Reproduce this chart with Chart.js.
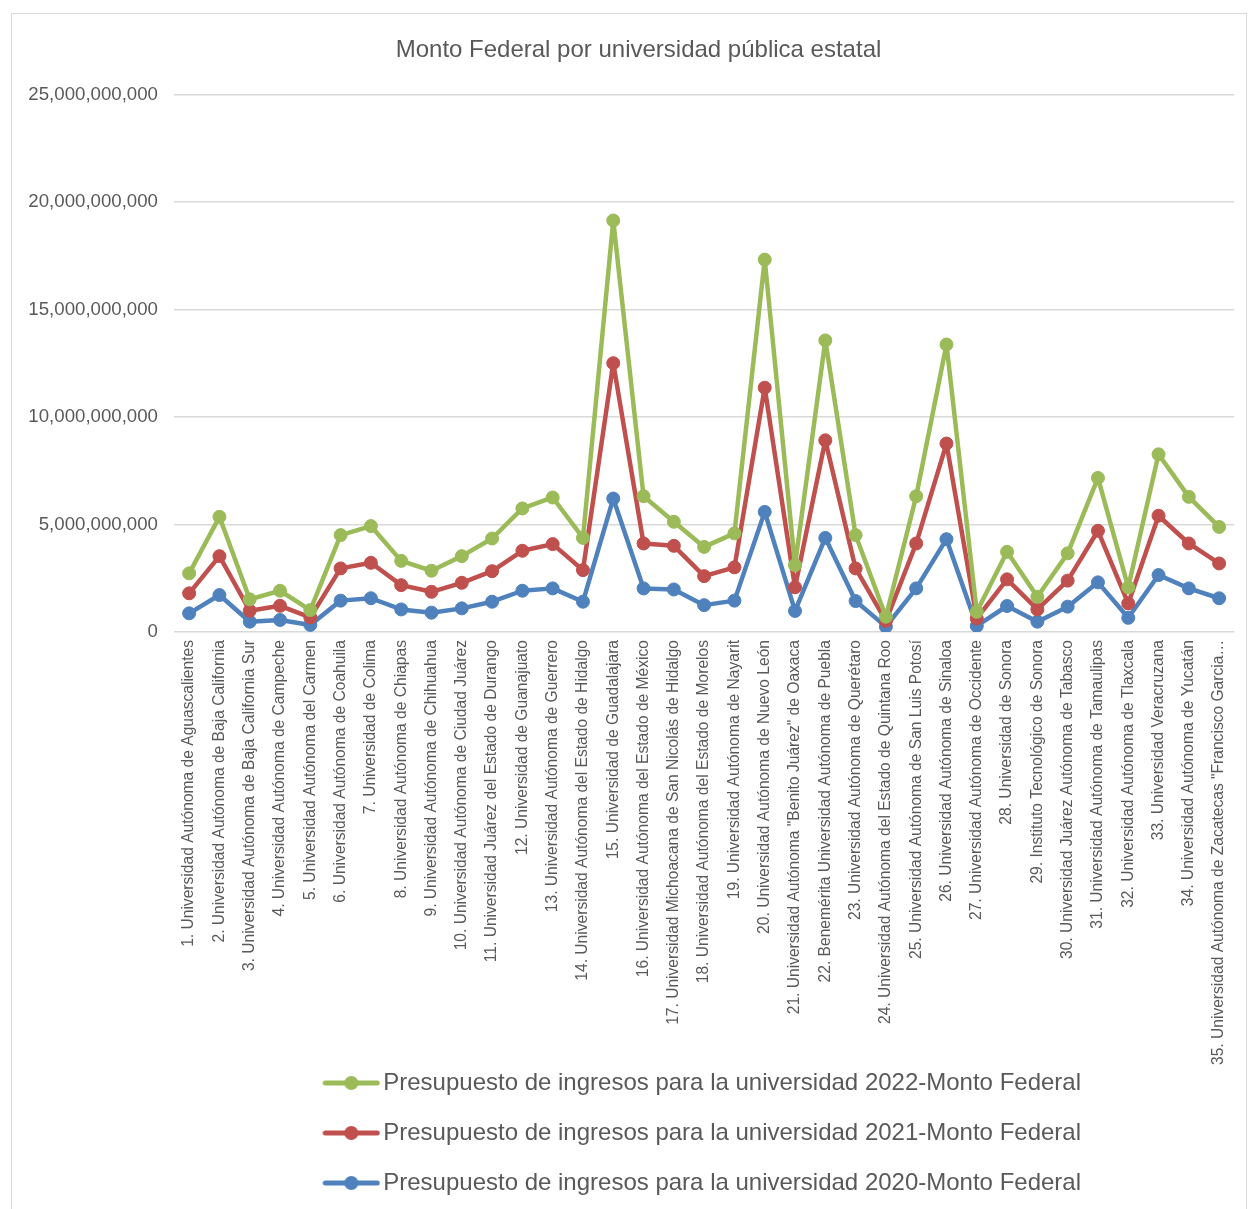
<!DOCTYPE html>
<html lang="es">
<head>
<meta charset="utf-8">
<title>Monto Federal por universidad pública estatal</title>
<script src="https://cdn.jsdelivr.net/npm/chart.js@4.4.0/dist/chart.umd.min.js"></script>
<style>
  html, body { margin: 0; padding: 0; background: #fff; overflow: hidden; }
  .frame {
    position: absolute; left: 11px; top: 13px;
    width: 1234px; height: 1252px;
    border: 1px solid #d9d9d9; border-bottom: none;
  }
  canvas { display: block; }
</style>
</head>
<body>
<div class="frame">
  <canvas id="chart" width="1234" height="1238"></canvas>
</div>
<script>
const categories = [
  '1. Universidad Autónoma de Aguascalientes',
  '2. Universidad Autónoma de Baja California',
  '3. Universidad Autónoma de Baja California Sur',
  '4. Universidad Autónoma de Campeche',
  '5. Universidad Autónoma del Carmen',
  '6. Universidad Autónoma de Coahuila',
  '7. Universidad de Colima',
  '8. Universidad Autónoma de Chiapas',
  '9. Universidad Autónoma de Chihuahua',
  '10. Universidad Autónoma de Ciudad Juárez',
  '11. Universidad Juárez del Estado de Durango',
  '12. Universidad de Guanajuato',
  '13. Universidad Autónoma de Guerrero',
  '14. Universidad Autónoma del Estado de Hidalgo',
  '15. Universidad de Guadalajara',
  '16. Universidad Autónoma del Estado de México',
  '17. Universidad Michoacana de San Nicolás de Hidalgo',
  '18. Universidad Autónoma del Estado de Morelos',
  '19. Universidad Autónoma de Nayarit',
  '20. Universidad Autónoma de Nuevo León',
  '21. Universidad Autónoma "Benito Juárez" de Oaxaca',
  '22. Benemérita Universidad Autónoma de Puebla',
  '23. Universidad Autónoma de Querétaro',
  '24. Universidad Autónoma del Estado de Quintana Roo',
  '25. Universidad Autónoma de San Luis Potosí',
  '26. Universidad Autónoma de Sinaloa',
  '27. Universidad Autónoma de Occidente',
  '28. Universidad de Sonora',
  '29. Instituto Tecnológico de Sonora',
  '30. Universidad Juárez Autónoma de Tabasco',
  '31. Universidad Autónoma de Tamaulipas',
  '32. Universidad Autónoma de Tlaxcala',
  '33. Universidad Veracruzana',
  '34. Universidad Autónoma de Yucatán',
  '35. Universidad Autónoma de Zacatecas "Francisco Garcia…'
];

// montos (pesos)
const monto2022 = [
  2730000000, 5360000000, 1520000000, 1920000000, 1020000000, 4510000000, 4930000000,
  3310000000, 2850000000, 3530000000, 4350000000, 5750000000, 6260000000, 4380000000,
  19150000000, 6320000000, 5130000000, 3960000000, 4590000000, 17330000000, 3110000000,
  13570000000, 4510000000, 710000000, 6320000000, 13380000000, 940000000, 3730000000,
  1640000000, 3660000000, 7170000000, 2080000000, 8270000000, 6290000000, 4890000000
];
const monto2021 = [
  1800000000, 3530000000, 990000000, 1220000000, 680000000, 2960000000, 3220000000,
  2180000000, 1870000000, 2290000000, 2830000000, 3780000000, 4090000000, 2880000000,
  12510000000, 4120000000, 4010000000, 2600000000, 3010000000, 11370000000, 2080000000,
  8920000000, 2960000000, 520000000, 4120000000, 8770000000, 630000000, 2450000000,
  1050000000, 2390000000, 4710000000, 1330000000, 5410000000, 4120000000, 3190000000
];
const monto2020 = [
  870000000, 1720000000, 480000000, 560000000, 330000000, 1460000000, 1570000000,
  1050000000, 900000000, 1100000000, 1410000000, 1920000000, 2030000000, 1410000000,
  6210000000, 2030000000, 1980000000, 1250000000, 1460000000, 5590000000, 980000000,
  4380000000, 1440000000, 250000000, 2030000000, 4320000000, 280000000, 1210000000,
  480000000, 1180000000, 2310000000, 660000000, 2650000000, 2030000000, 1570000000
];
const seriesNames = [
  'Presupuesto de ingresos para la universidad 2022-Monto Federal',
  'Presupuesto de ingresos para la universidad 2021-Monto Federal',
  'Presupuesto de ingresos para la universidad 2020-Monto Federal'
];
const yTickLabels = ['0', '5,000,000,000', '10,000,000,000', '15,000,000,000', '20,000,000,000', '25,000,000,000'];

const colors = ['#9bbb59', '#c0504d', '#4f81bd'];
const textColor = '#595959';
const fontFamily = '"Liberation Sans", Arial, sans-serif';

// little line-with-marker icon for the legend, like Excel's
function legendIcon(color) {
  const c = document.createElement('canvas');
  c.width = 58;
  c.height = 16;
  const g = c.getContext('2d');
  g.strokeStyle = color;
  g.lineWidth = 5;
  g.lineCap = 'round';
  g.beginPath();
  g.moveTo(3, 8);
  g.lineTo(55, 8);
  g.stroke();
  g.fillStyle = color;
  g.beginPath();
  g.arc(29, 8, 7, 0, Math.PI * 2);
  g.fill();
  return c;
}
const icons = colors.map(legendIcon);

function makeDataset(label, data, color) {
  return {
    label: label,
    data: data,
    borderColor: color,
    backgroundColor: color,
    borderWidth: 4.5,
    borderJoinStyle: 'round',
    borderCapStyle: 'round',
    pointRadius: 6.5,
    pointBorderWidth: 1,
    pointBackgroundColor: color,
    pointBorderColor: color,
    tension: 0,
    fill: false
  };
}

// nudge title and legend to where Excel puts them
const placeBoxes = {
  id: 'placeBoxes',
  afterLayout(chart) {
    const lg = chart.legend;
    if (lg) {
      const shift = (chart.chartArea.left + chart.chartArea.right) / 2 - (lg.left + lg.right) / 2 + 2;
      lg.left += shift;
      lg.right += shift;
      lg.top -= 47;
      lg.bottom -= 47;
    }
    const t = chart.titleBlock;
    if (t) {
      t.left += 15;
      t.right += 15;
    }
  }
};

new Chart(document.getElementById('chart'), {
  type: 'line',
  data: {
    labels: categories,
    datasets: [
      makeDataset(seriesNames[0], monto2022, colors[0]),
      makeDataset(seriesNames[1], monto2021, colors[1]),
      makeDataset(seriesNames[2], monto2020, colors[2])
    ]
  },
  options: {
    responsive: false,
    animation: false,
    events: [],
    layout: { padding: { left: 0, right: 11, top: 0, bottom: 0 } },
    scales: {
      x: {
        offset: true,
        grid: { display: false, drawTicks: false },
        border: { display: false },
        afterFit(scale) { scale.height = 460; },
        ticks: {
          autoSkip: false,
          minRotation: 90,
          maxRotation: 90,
          padding: 8,
          color: textColor,
          font: { family: fontFamily, size: 15.6 }
        }
      },
      y: {
        min: 0,
        max: 25000000000,
        afterFit(scale) { scale.width = 162; },
        grid: { color: '#d9d9d9', lineWidth: 1.5, drawTicks: false },
        border: { display: false },
        ticks: {
          stepSize: 5000000000,
          padding: 16,
          color: textColor,
          font: { family: fontFamily, size: 18.67 },
          callback: (value) => yTickLabels[Math.round(value / 5000000000)]
        }
      }
    },
    plugins: {
      title: {
        display: true,
        text: 'Monto Federal por universidad pública estatal',
        color: textColor,
        font: { family: fontFamily, size: 24, weight: 'normal' },
        padding: { top: 22, bottom: 30 }
      },
      legend: {
        position: 'bottom',
        labels: {
          usePointStyle: true,
          pointStyleWidth: 40,
          padding: 26,
          color: textColor,
          font: { family: fontFamily, size: 24 },
          generateLabels(chart) {
            const items = Chart.defaults.plugins.legend.labels.generateLabels(chart);
            items.forEach((it, i) => { it.pointStyle = icons[i]; });
            return items;
          }
        }
      },
      tooltip: { enabled: false }
    }
  },
  plugins: [placeBoxes]
});
</script>
</body>
</html>
